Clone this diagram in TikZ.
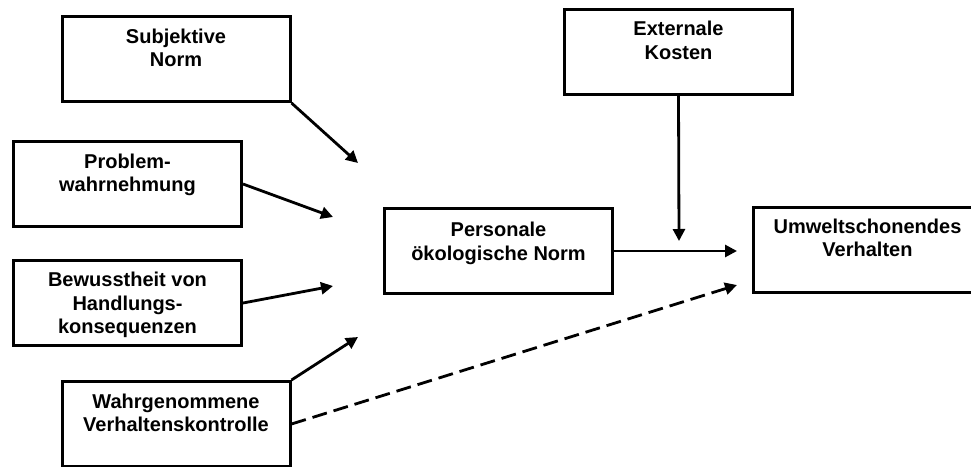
\documentclass[tikz,border=0pt]{standalone}
\usepackage{fontspec}
\setmainfont{Liberation Sans}[BoldFont={Liberation Sans Bold}]
\usetikzlibrary{arrows.meta}
\begin{document}
\begin{tikzpicture}[x=1pt,y=-1pt,
  box/.style={draw=black, line width=3pt, fill=white, minimum width=228pt, minimum height=85pt, inner sep=0pt},
  txt/.style={anchor=north, inner sep=0pt, align=center, font=\fontsize{20}{23.5}\selectfont\bfseries},
  conn/.style={line width=2.8pt, -{Triangle[length=12pt,width=12pt]}},
  dconn/.style={conn, dash pattern=on 15pt off 7pt}]
\useasboundingbox (0,0) rectangle (971,466);
\begin{scope}
\clip (0,0) rectangle (971,466);
\node[box] (sn) at (176,59) {};
\node[box] (pw) at (127.5,184) {};
\node[box] (bh) at (127.5,303) {};
\node[box] (wk) at (176,424) {};
\node[box] (pn) at (498.5,251) {};
\node[box] (ek) at (678.5,52) {};
\node[box] (uv) at (867.5,250) {};
\end{scope}
\node[txt] (snt) at ([yshift=-13.5pt]sn.north) {Subjektive\\Norm};
\node[txt] (pwt) at ([yshift=-13.5pt]pw.north) {Problem-\\wahrnehmung};
\node[txt] (bht) at ([yshift=-13pt]bh.north) {Bewusstheit von\\Handlungs-\\konsequenzen};
\node[txt] (wkt) at ([yshift=-13.5pt]wk.north) {Wahrgenommene\\Verhaltenskontrolle};
\node[txt] (pnt) at ([yshift=-15pt]pn.north) {Personale\\ökologische Norm};
\node[txt] (ekt) at ([yshift=-13pt]ek.north) {Externale\\Kosten};
\node[txt] (uvt) at ([yshift=-12.5pt]uv.north) {Umweltschonendes\\Verhalten};
\coordinate (e1) at (358,163);
\coordinate (e2) at (333,217);
\coordinate (e3) at (333,286);
\coordinate (e4) at (358,337);
\coordinate (e5) at (737,285);
\coordinate (e6) at (737,251);
\coordinate (e7) at (679,241);
\draw[conn] (sn.south east) -- (e1);
\draw[conn] (pw.east) -- (e2);
\draw[conn] (bh.east) -- (e3);
\draw[conn] (wk.north east) -- (e4);
\draw[dconn] (wk.east) -- (e5);
\draw[conn] (pn.east) -- (e6);
\draw[conn] (ek.south) -- (e7);
\end{tikzpicture}
\end{document}
